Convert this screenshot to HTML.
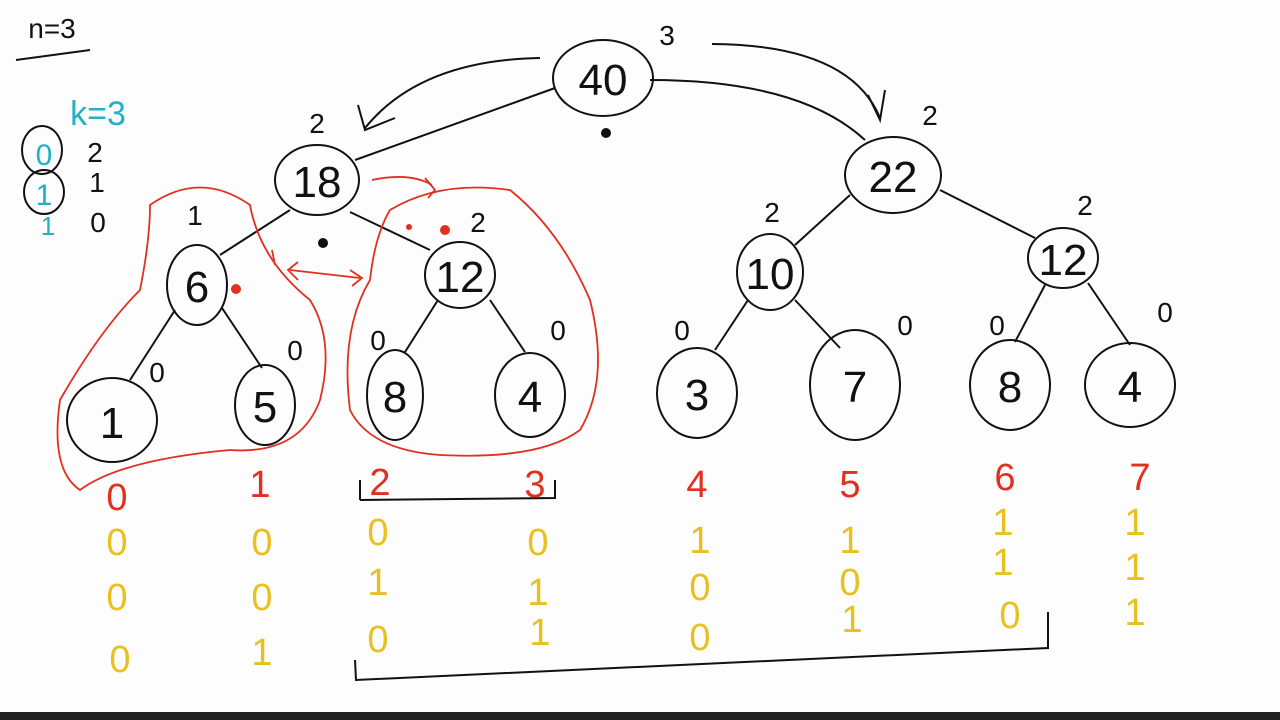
<!DOCTYPE html>
<html><head><meta charset="utf-8"><style>
html,body{margin:0;padding:0;background:#fff;}
svg{display:block}
text{font-family:"Liberation Sans",sans-serif;}
</style></head><body>
<svg width="1280" height="720" viewBox="0 0 1280 720" xmlns="http://www.w3.org/2000/svg">
<rect width="1280" height="720" fill="#fdfdfd"/>
<rect x="0" y="712" width="1280" height="8" fill="#222"/>
<g fill="none" stroke="#111" stroke-width="2">
<!-- edges -->
<path d="M555 88 L355 160"/><path d="M650 80 Q800 80 865 140"/>
<path d="M290 210 L220 255"/><path d="M350 212 L430 250"/>
<path d="M850 195 L795 245"/><path d="M940 190 L1035 238"/>
<path d="M175 310 L130 380"/><path d="M222 308 L262 368"/>
<path d="M438 300 L405 352"/><path d="M490 300 L525 352"/>
<path d="M748 300 L715 350"/><path d="M795 300 L840 348"/>
<path d="M1045 285 L1015 342"/><path d="M1088 283 L1130 345"/>
<!-- nodes -->
<ellipse cx="603" cy="78" rx="50" ry="38"/>
<ellipse cx="317" cy="180" rx="42" ry="35"/>
<ellipse cx="893" cy="175" rx="48" ry="38"/>
<ellipse cx="197" cy="285" rx="30" ry="40"/>
<ellipse cx="460" cy="275" rx="35" ry="33"/>
<ellipse cx="770" cy="272" rx="33" ry="38"/>
<ellipse cx="1063" cy="258" rx="35" ry="30"/>
<ellipse cx="112" cy="420" rx="45" ry="42"/>
<ellipse cx="265" cy="405" rx="30" ry="40"/>
<ellipse cx="395" cy="395" rx="28" ry="45"/>
<ellipse cx="530" cy="395" rx="35" ry="42"/>
<ellipse cx="697" cy="393" rx="40" ry="45"/>
<ellipse cx="855" cy="385" rx="45" ry="55"/>
<ellipse cx="1010" cy="385" rx="40" ry="45"/>
<ellipse cx="1130" cy="385" rx="45" ry="42"/>
<!-- arrows -->
<path d="M540 58 Q420 60 365 128"/><path d="M358 105 L365 130 L395 118"/>
<path d="M712 44 Q850 45 880 118"/><path d="M868 95 L880 120 L885 90"/>
<!-- brackets -->
<path d="M360 500 L360 480 M360 500 L555 498 L555 480"/>
<path d="M355 660 L356 680 L1048 648 L1048 612"/>
<path d="M16 60 L90 50"/>
<ellipse cx="42" cy="150" rx="20" ry="24" stroke="#111"/>
<ellipse cx="44" cy="192" rx="20" ry="22"/>
</g>
<g fill="none" stroke="#e03020" stroke-width="1.8">
<path d="M150 205 Q200 170 250 205 Q260 260 310 300 Q335 340 320 400 Q300 455 230 450 Q120 460 80 490 Q50 470 60 400 Q100 330 140 290 Q150 240 150 205Z"/>
<path d="M390 210 Q440 180 510 190 Q560 230 590 300 Q610 380 580 430 Q540 460 440 455 Q370 450 350 410 Q340 330 370 280 Q375 235 390 210Z"/>
<path d="M372 180 Q410 172 432 185"/><path d="M425 178 L435 190 L428 198"/>
<path d="M290 270 L360 278"/><path d="M298 262 L288 270 L298 280 M350 270 L362 278 L352 286"/>
<path d="M272 250 L275 265"/>
</g>
<circle cx="236" cy="289" r="5" fill="#e03020"/><circle cx="445" cy="230" r="5" fill="#e03020"/><circle cx="409" cy="227" r="3" fill="#e03020"/>
<circle cx="606" cy="133" r="5" fill="#111"/><circle cx="323" cy="243" r="5" fill="#111"/>
<g fill="#111" font-size="44" text-anchor="middle">
<text x="603" y="95">40</text><text x="317" y="197">18</text><text x="893" y="192">22</text>
<text x="197" y="302">6</text><text x="460" y="292">12</text><text x="770" y="289">10</text><text x="1063" y="275">12</text>
<text x="112" y="438">1</text><text x="265" y="422">5</text><text x="395" y="412">8</text><text x="530" y="412">4</text>
<text x="697" y="410">3</text><text x="855" y="402">7</text><text x="1010" y="402">8</text><text x="1130" y="402">4</text>
</g>
<g fill="#111" font-size="28" text-anchor="middle">
<text x="667" y="45">3</text><text x="317" y="133">2</text><text x="930" y="125">2</text>
<text x="195" y="225">1</text><text x="478" y="232">2</text><text x="772" y="222">2</text><text x="1085" y="215">2</text>
<text x="157" y="382">0</text><text x="295" y="360">0</text><text x="378" y="350">0</text><text x="558" y="340">0</text>
<text x="682" y="340">0</text><text x="905" y="335">0</text><text x="997" y="335">0</text><text x="1165" y="322">0</text>
<text x="52" y="38">n=3</text>
<text x="95" y="162">2</text><text x="97" y="192">1</text><text x="98" y="232">0</text>
</g>
<g fill="#20b0c8" font-size="34" text-anchor="middle">
<text x="98" y="125">k=3</text>
<text x="44" y="165" font-size="30">0</text><text x="44" y="205" font-size="30">1</text><text x="48" y="235" font-size="26">1</text>
</g>
<g fill="#e03020" font-size="38" text-anchor="middle">
<text x="117" y="510">0</text><text x="260" y="497">1</text><text x="380" y="495">2</text><text x="535" y="497">3</text>
<text x="697" y="497">4</text><text x="850" y="497">5</text><text x="1005" y="490">6</text><text x="1140" y="490">7</text>
</g>
<g fill="#e8c020" font-size="38" text-anchor="middle">
<text x="117" y="555">0</text><text x="117" y="610">0</text><text x="120" y="672">0</text>
<text x="262" y="555">0</text><text x="262" y="610">0</text><text x="262" y="665">1</text>
<text x="378" y="545">0</text><text x="378" y="595">1</text><text x="378" y="652">0</text>
<text x="538" y="555">0</text><text x="538" y="605">1</text><text x="540" y="645">1</text>
<text x="700" y="553">1</text><text x="700" y="600">0</text><text x="700" y="650">0</text>
<text x="850" y="553">1</text><text x="850" y="595">0</text><text x="852" y="632">1</text>
<text x="1003" y="535">1</text><text x="1003" y="575">1</text><text x="1010" y="628">0</text>
<text x="1135" y="535">1</text><text x="1135" y="580">1</text><text x="1135" y="625">1</text>
</g>
</svg>
</body></html>
